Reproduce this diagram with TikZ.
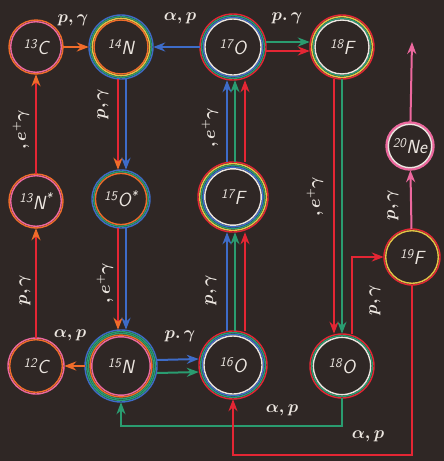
\documentclass[tikz,border=0pt]{standalone}
\usetikzlibrary{arrows.meta}

\definecolor{bg}{RGB}{47,39,37}
\definecolor{cred}{RGB}{228,38,52}
\definecolor{corange}{RGB}{240,108,42}
\definecolor{cyel}{RGB}{226,196,70}
\definecolor{cgreen}{RGB}{42,156,112}
\definecolor{cblue}{RGB}{62,108,200}
\definecolor{cpink}{RGB}{236,104,158}
\definecolor{cwhite}{RGB}{236,230,224}

\begin{document}
\begin{tikzpicture}[x=1pt,y=-1pt,
  nuc/.style={circle,inner sep=0pt,minimum size=#1,text=cwhite,
    font=\sffamily\itshape\fontsize{19}{20}\selectfont},
  rxn/.style={text=cwhite,inner sep=0pt,
    font=\bfseries\boldmath\fontsize{16}{17}\selectfont},
  flow/.style={line width=2pt,-{Stealth[length=12pt,width=9pt]}},
  headc/.style={line width=2pt,-{Stealth[length=12pt,width=9pt,color=#1]}},
  ring/.style={line width=1.4pt}]

\fill[bg] (0,0) rectangle (444,461);
\useasboundingbox (0,0) rectangle (444,461);

% nuclei
\node[nuc=54pt] (c13) at (36,47) {\textsuperscript{13}C};
\node[nuc=64pt] (n14) at (121,47) {\textsuperscript{14}N};
\node[nuc=66pt] (o17) at (233,47) {\textsuperscript{17}O};
\node[nuc=64pt] (f18) at (342,47) {\textsuperscript{18}F};
\node[nuc=54pt] (n13) at (36,201) {\textsuperscript{13}N\textsuperscript{*}};
\node[nuc=58pt] (o15) at (121,199) {\textsuperscript{15}O\textsuperscript{*}};
\node[nuc=70pt] (f17) at (233,197) {\textsuperscript{17}F};
\node[nuc=48pt] (ne20) at (410,146) {\textsuperscript{20}Ne};
\node[nuc=56pt] (f19) at (412,257) {\textsuperscript{19}F};
\node[nuc=56pt] (c12) at (36,366) {\textsuperscript{12}C};
\node[nuc=72pt] (n15) at (121,366) {\textsuperscript{15}N};
\node[nuc=68pt] (o16) at (233,365) {\textsuperscript{16}O};
\node[nuc=64pt] (o18) at (342,366) {\textsuperscript{18}O};
\coordinate (out) at (412,42);

% coloured rings
\foreach \c/\r in {corange/27,cpink/25.3} \draw[ring,\c] (c13) circle (\r pt);
\foreach \c/\r in {cblue/32,cgreen/30.3,cyel/28.6,corange/27} \draw[ring,\c] (n14) circle (\r pt);
\foreach \c/\r in {cred/33,cgreen/31.3,cblue/29.6,cwhite/28} \draw[ring,\c] (o17) circle (\r pt);
\foreach \c/\r in {cred/32,cyel/30.3,cgreen/28.6,cwhite/27} \draw[ring,\c] (f18) circle (\r pt);
\foreach \c/\r in {corange/27,cpink/25.3} \draw[ring,\c] (n13) circle (\r pt);
\foreach \c/\r in {cblue/29,cgreen/27.3,corange/25.6} \draw[ring,\c] (o15) circle (\r pt);
\foreach \c/\r in {cred/35,cyel/33.3,cgreen/31.6,cblue/29.9,cwhite/28.2} \draw[ring,\c] (f17) circle (\r pt);
\foreach \c/\r in {cpink/24,cpink/23,cwhite/21.7} \draw[ring,\c] (ne20) circle (\r pt);
\foreach \c/\r in {cred/28,cyel/26.3} \draw[ring,\c] (f19) circle (\r pt);
\foreach \c/\r in {cpink/28,corange/26.3} \draw[ring,\c] (c12) circle (\r pt);
\foreach \c/\r in {cblue/36,cgreen/34.3,cgreen/32.6,corange/30.9,cpink/29.2} \draw[ring,\c] (n15) circle (\r pt);
\foreach \c/\r in {cred/34,cgreen/32.3,cblue/30.6,cwhite/29} \draw[ring,\c] (o16) circle (\r pt);
\foreach \c/\r in {cred/32,cgreen/30.3,cwhite/28.6} \draw[ring,\c] (o18) circle (\r pt);

% reactions
\draw[flow,corange,line width=2.8pt] (c13) -- (n14);
\draw[flow,cblue] (o17) -- (n14);
\draw[flow,cgreen] ([yshift=5pt]o17.east) -- ([yshift=5pt]f18.west);
\draw[flow,cred] ([yshift=-4pt]o17.east) -- ([yshift=-4pt]f18.west);

\draw[headc=corange,cred] (n13) -- (c13);
\draw[headc=corange,cred] (c12) -- (n13);

\draw[headc=corange,cred] ([xshift=-3pt]n14.south) -- ([xshift=-3pt]o15.north);
\draw[flow,cblue] ([xshift=5pt]n14.south) -- ([xshift=5pt]o15.north);
\draw[headc=corange,cred] ([xshift=-3pt]o15.south) -- ([xshift=-3pt]n15.north);
\draw[flow,cblue] ([xshift=5pt]o15.south) -- ([xshift=5pt]n15.north);

\draw[flow,corange] (n15) -- (c12);
\draw[flow,cblue] ([yshift=6pt]n15.east) -- ([yshift=6pt]o16.west);
\draw[flow,cgreen] ([yshift=-7pt]n15.east) -- ([yshift=-7pt]o16.west);

\foreach \c/\dx in {cblue/-6,cgreen/2,cred/12} {
  \draw[flow,\c] ([xshift=\dx pt]o16.north) -- ([xshift=\dx pt]f17.south);
  \draw[flow,\c] ([xshift=\dx pt]f17.north) -- ([xshift=\dx pt]o17.south);
}

\draw[flow,cred] ([xshift=-8pt]f18.south) -- ([xshift=-8pt]o18.north);
\draw[flow,cgreen] (f18) -- (o18);

\draw[flow,cred] ([xshift=10pt]o18.north) |- (f19.west);
\draw[flow,cpink] (f19) -- (ne20);
\draw[flow,cpink] (ne20) -- (out);

\draw[flow,cgreen] (o18.south) -- ++(0,28) -| (n15.south);
\draw[flow,cred] (f19.south) -- ++(0,170) -| (o16.south);

% labels
\node[rxn] (l1) at (73,20) {$p,\gamma$};
\node[rxn] (l2) at (180,18) {$\alpha,p$};
\node[rxn] (l3) at (287,18) {$p.\,\gamma$};
\node[rxn,rotate=90] (l4) at (103,104) {$p,\gamma$};
\node[rxn,rotate=90] (l5) at (21,130) {$,e^{+}\gamma$};
\node[rxn,rotate=90] (l6) at (25,290) {$p,\gamma$};
\node[rxn,rotate=90] (l7) at (105,283) {$,e^{+}\gamma$};
\node[rxn] (l8) at (70,335) {$\alpha,p$};
\node[rxn] (l9) at (180,336) {$p.\,\gamma$};
\node[rxn,rotate=90] (l10) at (211,290) {$p,\gamma$};
\node[rxn,rotate=90] (l11) at (210,128) {$,e^{+}\gamma$};
\node[rxn,rotate=90] (l12) at (315,197) {$,e^{+}\gamma$};
\node[rxn,rotate=90] (l13) at (375,300) {$p,\gamma$};
\node[rxn,rotate=90] (l14) at (393,205) {$p,\gamma$};
\node[rxn] (l15) at (282,410) {$\alpha,p$};
\node[rxn] (l16) at (368,436) {$\alpha,p$};

\end{tikzpicture}
\end{document}
